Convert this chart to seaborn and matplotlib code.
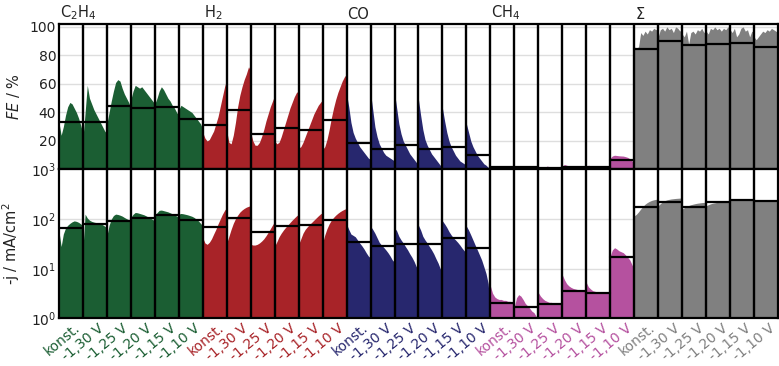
import numpy as np
import pandas as pd
import matplotlib
matplotlib.use("Agg")
import matplotlib.pyplot as plt
import matplotlib.transforms as mtransforms
import seaborn as sns

# Products, colours and potential steps
products = ["C$_2$H$_4$", "H$_2$", "CO", "CH$_4$", "Σ"]
colors = ["#1b5e33", "#a82328", "#27276e", "#b5519f", "#808080"]
steps = ["konst.", "-1,30 V", "-1,25 V", "-1,20 V", "-1,15 V", "-1,10 V"]

# Faradaic efficiency (%) over time within each step
fe_c2h4 = [
    [33, 24, 30, 38, 44, 47, 46, 43, 40, 36, 31, 25],
    [22, 40, 59, 50, 46, 42, 39, 36, 33, 30, 27, 25],
    [32, 40, 48, 55, 61, 63, 62, 57, 53, 50, 47, 43],
    [49, 55, 59, 58, 57, 58, 56, 54, 52, 50, 48, 46],
    [46, 50, 55, 58, 56, 53, 50, 48, 45, 43, 40, 38],
    [42, 45, 44, 43, 42, 41, 40, 38, 36, 34, 32, 28],
]
fe_h2 = [
    [26, 22, 20, 21, 24, 27, 32, 37, 44, 51, 58, 63],
    [27, 19, 18, 24, 33, 44, 52, 58, 63, 67, 72, 69],
    [26, 20, 17, 17, 19, 23, 28, 34, 39, 44, 48, 52],
    [20, 18, 19, 23, 28, 33, 38, 43, 47, 51, 54, 55],
    [15, 16, 19, 23, 27, 31, 35, 39, 42, 45, 47, 49],
    [14, 16, 21, 28, 36, 43, 49, 54, 58, 62, 65, 67],
]
fe_co = [
    [53, 44, 33, 26, 22, 19, 16, 14, 12, 10, 8, 7],
    [54, 42, 30, 23, 18, 15, 12, 10, 9, 8, 7, 6],
    [54, 43, 32, 25, 20, 17, 14, 11, 9, 7, 5, 4],
    [49, 38, 28, 21, 17, 14, 11, 9, 7, 5, 3, 1.5],
    [43, 34, 26, 20, 16, 13, 10, 8, 6, 5, 4, 3],
    [32, 26, 20, 16, 13, 10, 8, 6, 4, 3, 1.5, 0.5],
]
fe_ch4 = [
    [2.0, 1.8, 1.6, 1.5, 1.5, 1.4, 1.4, 1.3, 1.3, 1.2, 1.2, 1.1],
    [1.8, 2.4, 2.0, 1.6, 1.4, 1.3, 1.2, 1.2, 1.1, 1.0, 1.0, 0.9],
    [2.0, 1.6, 1.4, 1.3, 2.4, 2.0, 1.5, 1.3, 1.2, 1.1, 1.0, 1.0],
    [2.5, 3.5, 3.0, 2.4, 2.1, 2.0, 1.9, 1.8, 1.8, 1.7, 1.6, 1.6],
    [2.0, 3.0, 2.6, 2.2, 2.0, 1.9, 1.8, 1.8, 1.7, 1.6, 1.6, 1.5],
    [8.0, 9.5, 10.0, 9.8, 9.6, 9.5, 9.4, 9.0, 8.5, 7.5, 6.0, 5.0],
]
fe_sum = [
    [86, 85, 86, 96, 94, 97, 95, 98, 97, 99, 98, 99],
    [93, 98, 99, 97, 100, 98, 99, 96, 100, 99, 97, 99],
    [95, 93, 97, 88, 96, 97, 95, 98, 97, 99, 96, 98],
    [97, 95, 99, 98, 100, 98, 99, 97, 99, 98, 100, 99],
    [98, 96, 99, 93, 95, 99, 100, 97, 98, 93, 97, 96],
    [93, 91, 93, 95, 97, 96, 98, 97, 99, 98, 97, 96],
]

# Mean faradaic efficiency per step (%)
fe_mean_c2h4 = [33.6, 33.6, 44.2, 43.3, 44.0, 35.3]
fe_mean_h2 = [31.3, 42.0, 24.7, 29.4, 27.8, 34.8]
fe_mean_co = [18.8, 14.6, 17.0, 14.1, 16.0, 10.0]
fe_mean_ch4 = [1.8, 1.5, 1.2, 2.0, 2.0, 6.6]
fe_mean_sum = [84.5, 90.0, 87.0, 88.3, 88.8, 85.7]

# Partial current density -j (mA/cm^2) over time within each step
j_c2h4 = [
    [57, 28, 50, 66, 75, 82, 88, 92, 90, 86, 80, 73],
    [25, 126, 105, 95, 90, 87, 85, 83, 80, 77, 72, 67],
    [46, 75, 100, 118, 126, 124, 120, 115, 108, 102, 97, 92],
    [108, 125, 136, 134, 130, 126, 122, 116, 110, 104, 98, 92],
    [116, 135, 150, 152, 148, 144, 140, 134, 128, 122, 115, 108],
    [126, 130, 128, 125, 122, 118, 114, 108, 100, 92, 82, 73],
]
j_h2 = [
    [42, 33, 31, 34, 40, 50, 62, 80, 100, 125, 150, 172],
    [33, 45, 62, 82, 102, 120, 138, 152, 164, 174, 181, 186],
    [31, 30, 30, 31, 33, 36, 40, 46, 54, 64, 76, 89],
    [28.5, 35, 44, 52, 60, 68, 76, 85, 95, 105, 116, 126],
    [31, 40, 52, 62, 70, 78, 86, 95, 105, 116, 127, 136],
    [33, 48, 64, 80, 95, 108, 120, 131, 141, 150, 158, 164],
]
j_co = [
    [79, 62, 50, 47, 44, 38, 33, 29, 25, 21, 18, 16.5],
    [72, 62, 52, 42, 34, 30, 27, 24, 21, 18, 15, 13.5],
    [67, 58, 45, 38, 33, 28, 24, 20, 17, 14, 11, 9.6],
    [75, 60, 45, 38, 33, 28, 24, 20, 16, 13, 10, 8.2],
    [92, 80, 68, 56, 48, 42, 38, 34, 30, 26, 23, 21],
    [72, 60, 48, 38, 30, 24, 19, 15, 11, 8, 5, 1.3],
]
j_ch4 = [
    [4.5, 3.2, 2.7, 2.5, 2.4, 2.4, 2.3, 2.3, 2.2, 2.2, 2.1, 2.1],
    [1.7, 2.6, 3.0, 2.8, 2.4, 2.0, 1.8, 1.6, 1.4, 1.3, 1.1, 1.0],
    [3.3, 2.8, 2.5, 2.3, 2.2, 2.1, 2.1, 2.0, 2.0, 2.0, 2.0, 2.0],
    [7.6, 6.0, 5.0, 4.5, 4.2, 4.0, 3.9, 3.8, 3.7, 3.6, 3.5, 3.5],
    [5.3, 4.3, 3.9, 3.6, 3.5, 3.4, 3.4, 3.3, 3.3, 3.2, 3.2, 3.2],
    [18, 24, 26.5, 25, 23, 22, 21, 19, 17, 15, 12, 9.6],
]
j_sum = [
    [116, 125, 140, 160, 180, 200, 215, 228, 238, 245, 250, 253],
    [186, 205, 222, 235, 244, 250, 255, 258, 261, 263, 265, 266],
    [159, 170, 180, 188, 195, 200, 205, 209, 212, 215, 217, 218],
    [186, 195, 203, 209, 213, 217, 219, 221, 222, 223, 224, 224],
    [240, 245, 248, 250, 252, 253, 254, 254, 255, 255, 254, 253],
    [228, 232, 235, 237, 238, 238, 237, 236, 235, 234, 233, 232],
]

# Mean current density per step (mA/cm^2)
j_mean_c2h4 = [67, 81, 92, 104, 122, 95]
j_mean_h2 = [69, 103, 55, 71, 76, 95]
j_mean_co = [34.5, 28.5, 31, 31, 42, 26.5]
j_mean_ch4 = [2.07, 1.7, 1.95, 3.5, 3.3, 17.4]
j_mean_sum = [172, 218, 177, 218, 245, 235]

fe_all = [fe_c2h4, fe_h2, fe_co, fe_ch4, fe_sum]
fe_means = [fe_mean_c2h4, fe_mean_h2, fe_mean_co, fe_mean_ch4, fe_mean_sum]
j_all = [j_c2h4, j_h2, j_co, j_ch4, j_sum]
j_means = [j_mean_c2h4, j_mean_h2, j_mean_co, j_mean_ch4, j_mean_sum]

n_steps = len(steps)
n_total = len(products) * n_steps

sns.set_theme(style="whitegrid")
plt.rcParams["font.family"] = ["DejaVu Sans"]
plt.rcParams["mathtext.fontset"] = "dejavusans"

fig = plt.figure(figsize=(7.79, 3.66), dpi=100)
ax_fe = fig.add_axes([0.0757, 0.5369, 0.923, 0.3975])
ax_j = fig.add_axes([0.0757, 0.1303, 0.923, 0.4066], sharex=ax_fe)
ax_j.set_yscale("log")


def draw_panel(ax, series, means, floor):
    rows = []
    for g, (group, gmeans) in enumerate(zip(series, means)):
        for s, (vals, m) in enumerate(zip(group, gmeans)):
            idx = g * n_steps + s
            x = np.linspace(idx, idx + 1, len(vals))
            ax.fill_between(x, vals, floor, color=colors[g], lw=0, zorder=2)
            rows.append({"seg": idx, "x": idx, "y": m})
            rows.append({"seg": idx, "x": idx + 1, "y": m})
    df = pd.DataFrame(rows)
    sns.lineplot(data=df, x="x", y="y", units="seg", estimator=None,
                 color="black", lw=1.6, ax=ax, zorder=3, legend=False)
    for b in range(1, n_total):
        ax.axvline(b, color="black", lw=1.7, zorder=4)
    ax.set_xlim(0, n_total)
    ax.grid(False, axis="x")
    ax.grid(True, axis="y", color="#dedede", lw=1.0)
    ax.set_axisbelow(True)
    for sp in ax.spines.values():
        sp.set_color("black")
        sp.set_linewidth(1.6)
        sp.set_zorder(5)
    ax.tick_params(axis="both", length=0, labelsize=10, colors="#222222", pad=2)
    ax.set_xlabel("")


draw_panel(ax_fe, fe_all, fe_means, 0)
draw_panel(ax_j, j_all, j_means, 1e-3)

ax_fe.set_ylim(0, 102)
ax_fe.set_yticks([20, 40, 60, 80, 100])
ax_j.set_ylim(1, 1000)
ax_j.set_yticks([1, 10, 100, 1000])
ax_j.yaxis.set_minor_locator(matplotlib.ticker.NullLocator())

ax_fe.set_ylabel(r"$\it{FE}$ / %", fontsize=10.5, color="#222222")
ax_j.set_ylabel("-j / mA/cm$^2$", fontsize=10.5, color="#222222")
ax_fe.yaxis.set_label_coords(-0.051, 0.5)
ax_j.yaxis.set_label_coords(-0.051, 0.5)

plt.setp(ax_fe.get_xticklabels(), visible=False)
ax_j.set_xticks(np.arange(n_total) + 0.5)
ax_j.set_xticklabels(steps * len(products), rotation=40, ha="right",
                     va="top", rotation_mode="anchor", fontsize=10)
shift = mtransforms.ScaledTranslation(3 / 100, 0, fig.dpi_scale_trans)
for i, lab in enumerate(ax_j.get_xticklabels()):
    lab.set_color(colors[i // n_steps])
    lab.set_transform(lab.get_transform() + shift)

for g, name in enumerate(products):
    ax_fe.text(g * n_steps + 0.04, 1.015, name, transform=ax_fe.get_xaxis_transform(),
               ha="left", va="bottom", fontsize=10.5, color="#222222")

fig.savefig("out.png", dpi=100)
